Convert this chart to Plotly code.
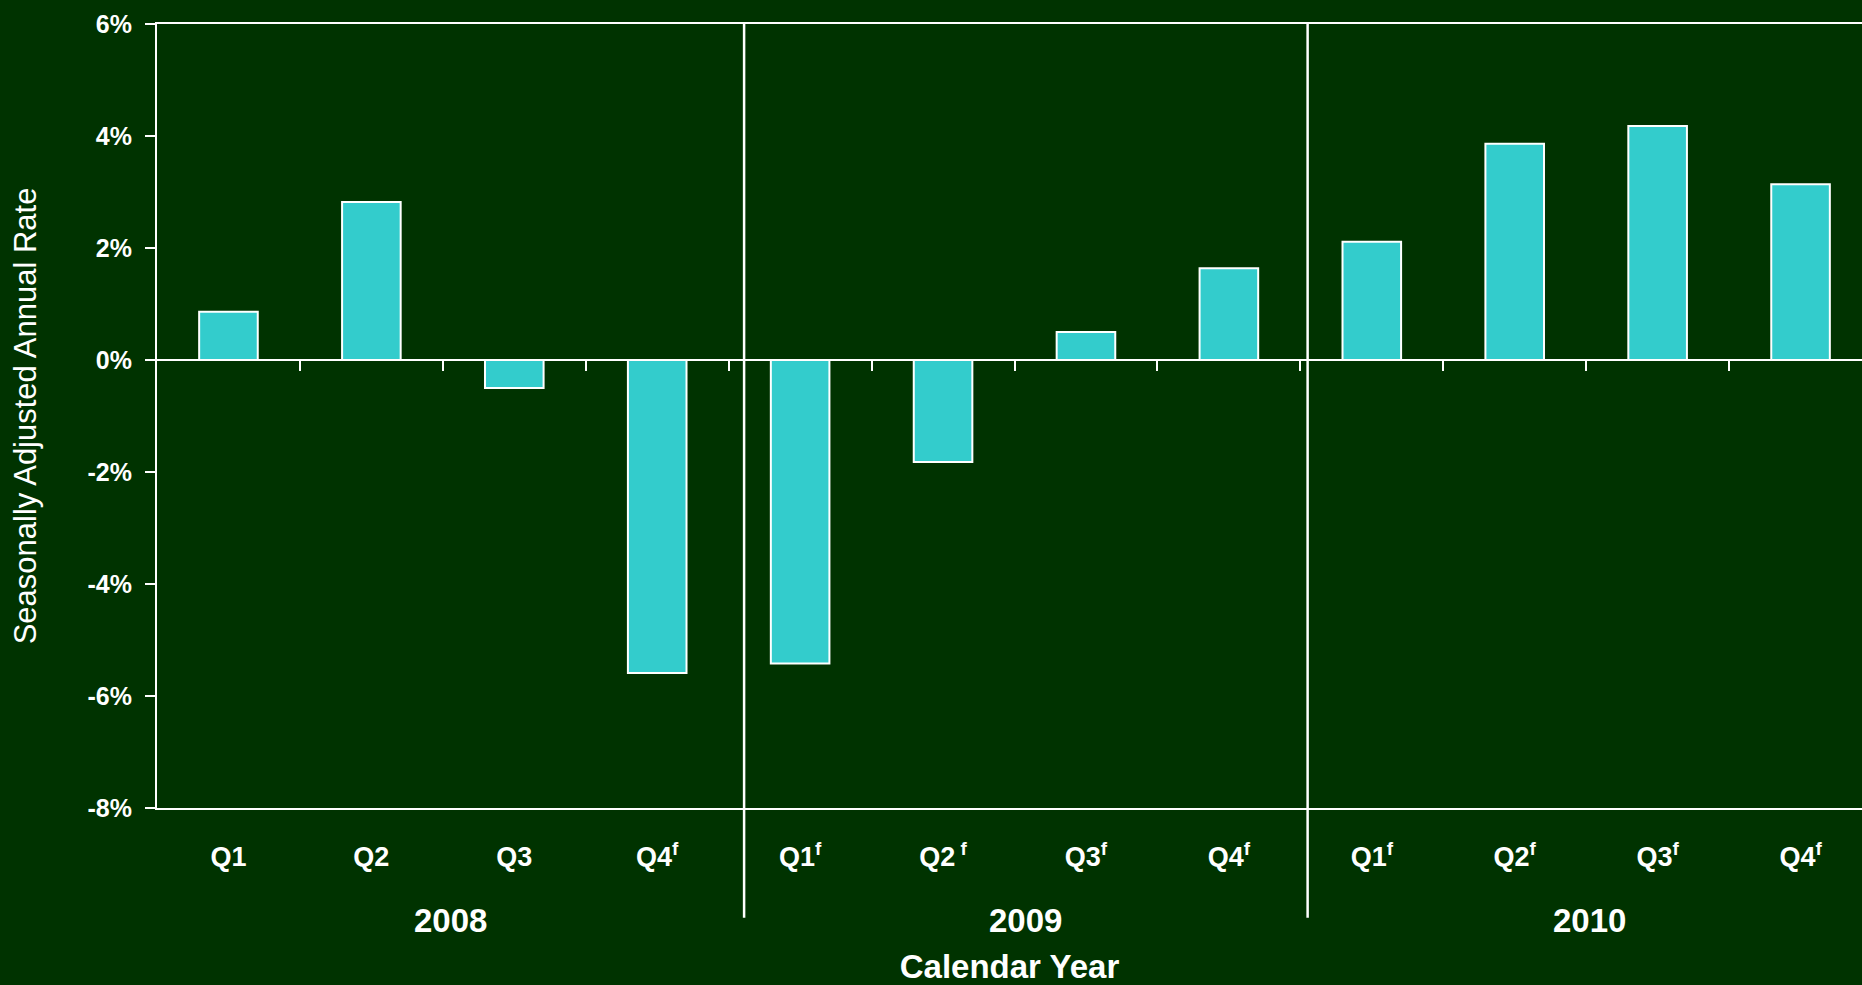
import plotly.graph_objects as go

# Quarterly growth, seasonally adjusted annual rate (%)
years = ["2008", "2009", "2010"]
quarters = ["Q1", "Q2", "Q3", "Q4<sup>f</sup>",
            "Q1<sup>f</sup>", "Q2<sup> f</sup>", "Q3<sup>f</sup>", "Q4<sup>f</sup>",
            "Q1<sup>f</sup>", "Q2<sup>f</sup>", "Q3<sup>f</sup>", "Q4<sup>f</sup>"]
growth = [0.86, 2.82, -0.50, -5.59,
          -5.42, -1.82, 0.50, 1.64,
          2.11, 3.86, 4.18, 3.14]
y_ticks = [6, 4, 2, 0, -2, -4, -6, -8]

BG = "#003300"
BAR = "#33CCCC"
WHITE = "#FFFFFF"
TICK_FONT = "Liberation Sans, Arial, sans-serif"

x_pos = list(range(len(growth)))
y_min, y_max = min(y_ticks), max(y_ticks)
x_range = [-0.5, 11.43]

fig = go.Figure()
fig.add_trace(go.Bar(
    x=x_pos, y=growth, width=0.41,
    marker=dict(color=BAR, line=dict(color=WHITE, width=2)),
    hoverinfo="skip", showlegend=False,
))
# carrier trace for the tick strip drawn along the zero line
fig.add_trace(go.Scatter(x=[None], y=[None], xaxis="x2", yaxis="y",
                         showlegend=False, hoverinfo="skip"))

# year dividers (slightly right of the quarter boundaries)
dividers = [3.608, 7.551]
edges = [x_range[0]] + dividers + [11.5]
for d in dividers:
    fig.add_shape(type="line", xref="x", yref="paper", x0=d, x1=d,
                  y0=-0.14, y1=1, line=dict(color=WHITE, width=2.5), layer="above")

for i, yr in enumerate(years):
    fig.add_annotation(x=(edges[i] + edges[i + 1]) / 2, y=-0.143, xref="x", yref="paper",
                       text=f"<b>{yr}</b>", showarrow=False, yanchor="middle",
                       font=dict(family=TICK_FONT, size=33, color=WHITE))

fig.update_layout(
    width=1862, height=985,
    margin=dict(l=157, r=0, t=24, b=177),
    paper_bgcolor=BG, plot_bgcolor=BG,
    bargap=0.59,
    xaxis=dict(
        range=x_range, tickmode="array", tickvals=x_pos,
        ticktext=[f"<b>{q}</b>" for q in quarters],
        showgrid=False, zeroline=False, showline=True, linecolor=WHITE, linewidth=2,
        mirror=True, ticks="", ticklabelstandoff=24,
        tickfont=dict(family=TICK_FONT, size=27, color=WHITE),
        title=dict(text="<b>Calendar Year</b>", standoff=85,
                   font=dict(family=TICK_FONT, size=33, color=WHITE)),
    ),
    xaxis2=dict(
        overlaying="x", anchor="free",
        position=(0 - y_min) / (y_max - y_min),
        range=x_range, tickmode="array",
        tickvals=[i + 0.5 for i in x_pos[:-1]],
        ticks="outside", ticklen=10, tickwidth=2, tickcolor=WHITE,
        showticklabels=False, showgrid=False, zeroline=False, showline=False,
    ),
    yaxis=dict(
        range=[y_min, y_max], tickmode="array", tickvals=y_ticks,
        ticktext=[f"<b>{v}%</b>" for v in y_ticks],
        showgrid=False, zeroline=True, zerolinecolor=WHITE, zerolinewidth=2,
        showline=True, linecolor=WHITE, linewidth=2,
        ticks="outside", ticklen=10, tickwidth=2, tickcolor=WHITE,
        ticklabelstandoff=8,
        tickfont=dict(family=TICK_FONT, size=25, color=WHITE),
        title=dict(text="Seasonally Adjusted Annual Rate", standoff=42,
                   font=dict(family=TICK_FONT, size=31, color=WHITE)),
    ),
)

fig.write_html("out.html")
